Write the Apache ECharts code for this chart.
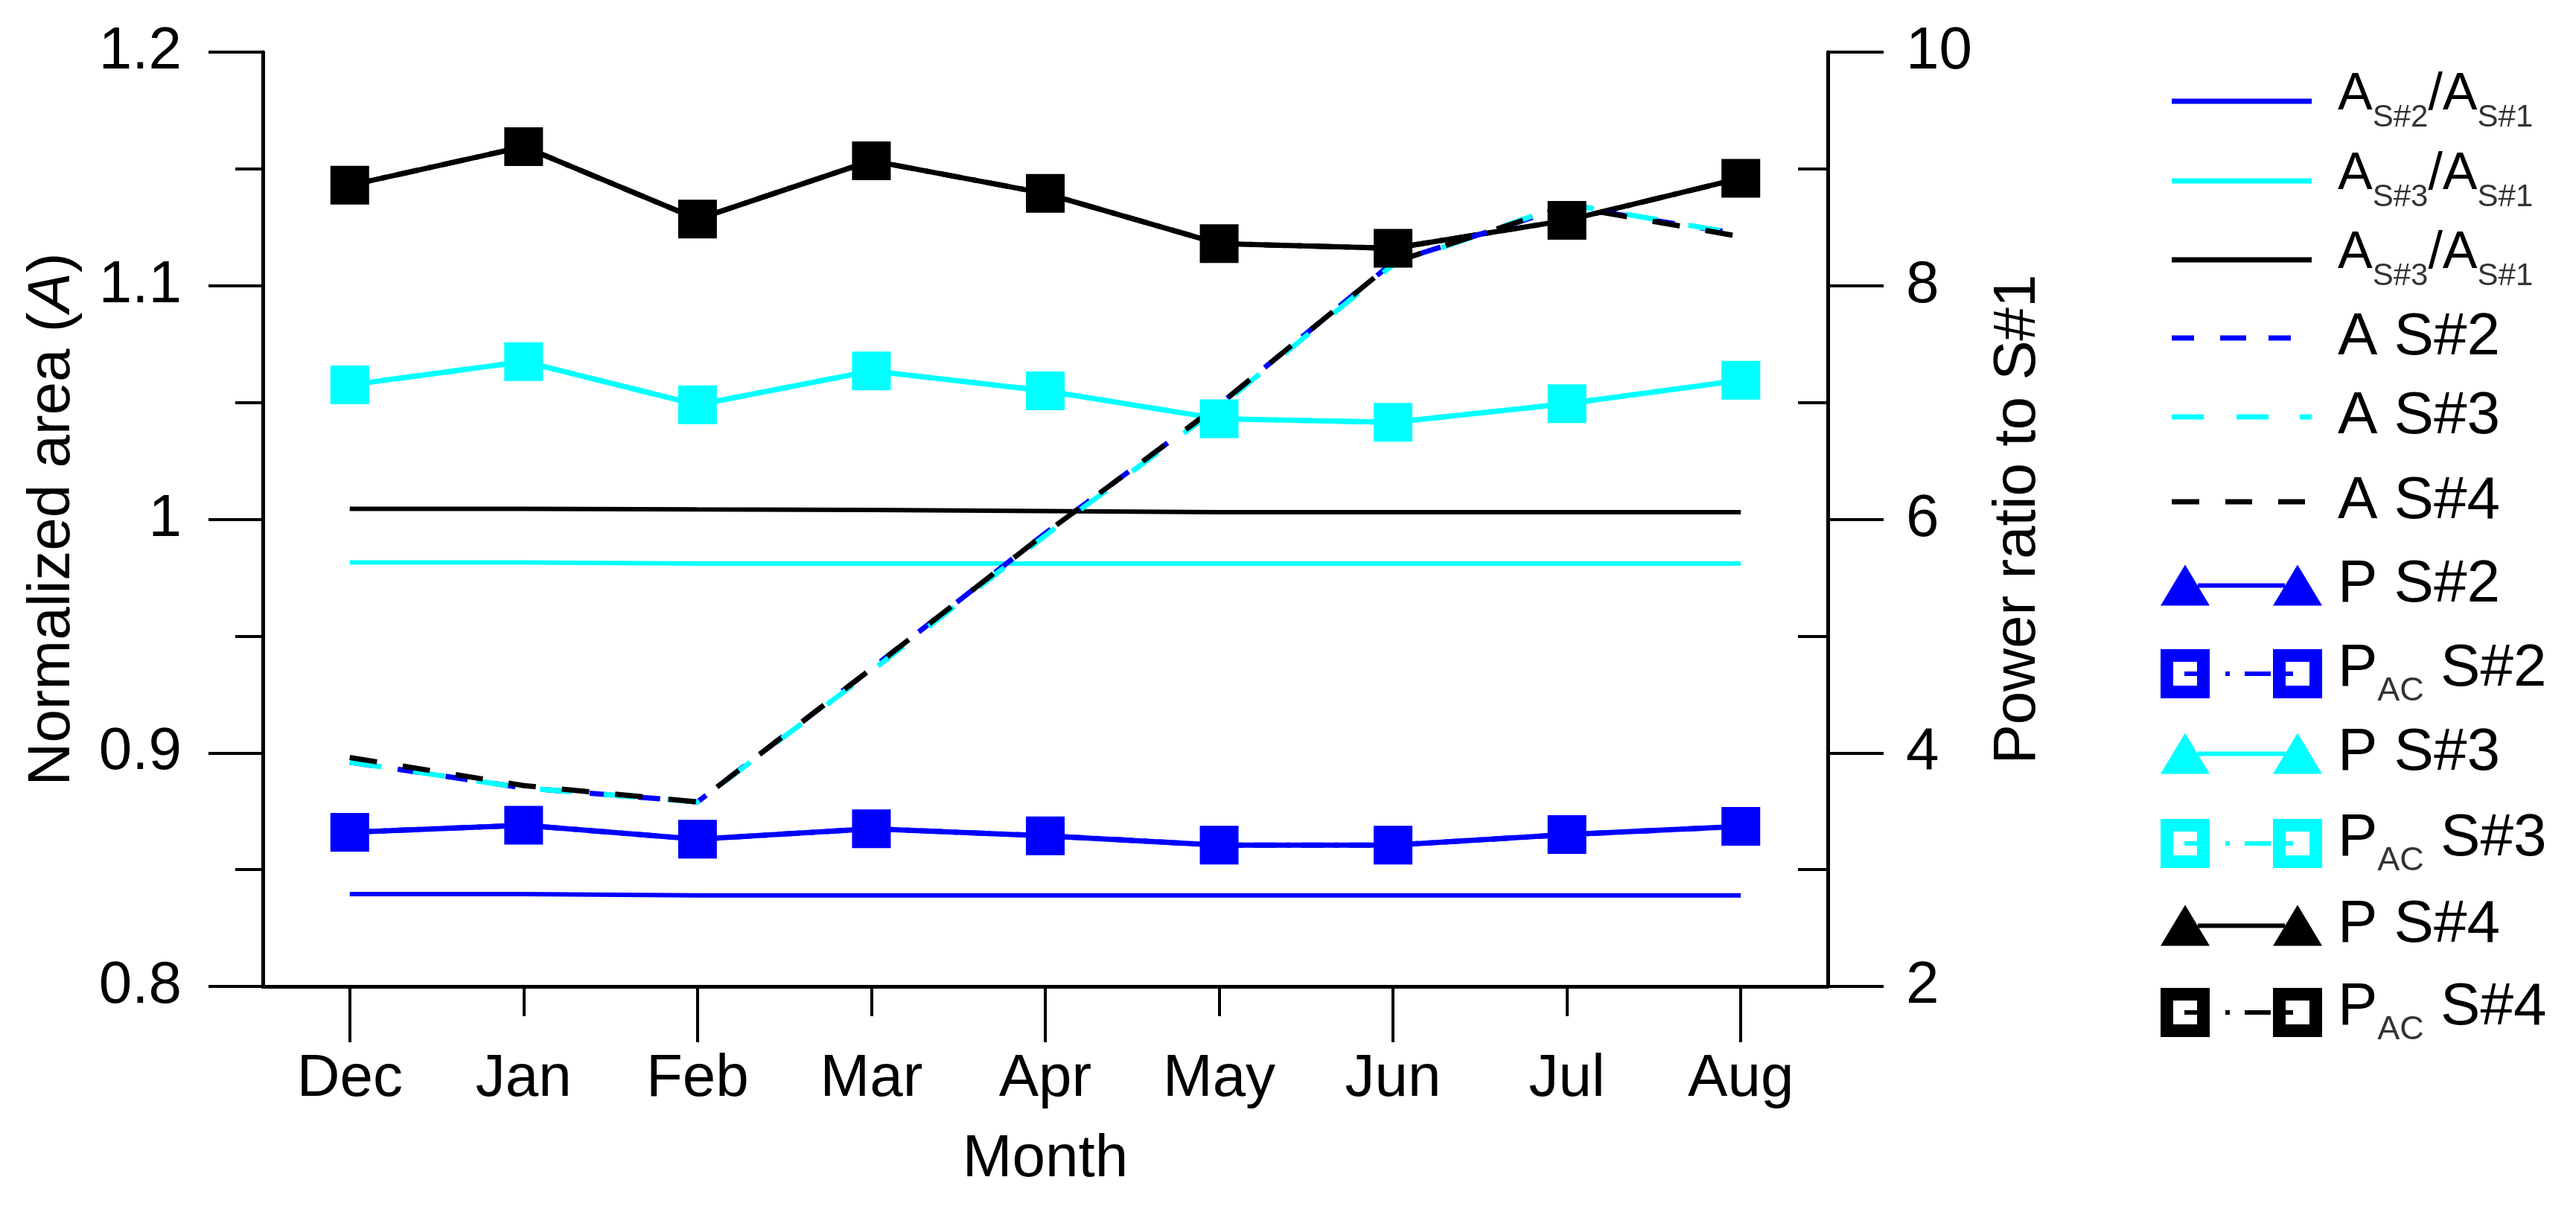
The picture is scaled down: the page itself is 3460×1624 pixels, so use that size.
<!DOCTYPE html>
<html><head><meta charset="utf-8">
<script src="https://cdn.jsdelivr.net/npm/echarts@6/dist/echarts.min.js"></script>
<style>html,body{margin:0;padding:0;background:#fff}#c{width:3460px;height:1624px}</style>
</head><body><div id="c"></div>
<script>
// ---------------- data ----------------
const months = ['Dec', 'Jan', 'Feb', 'Mar', 'Apr', 'May', 'Jun', 'Jul', 'Aug'];

// left axis: normalized area
const areaRatioS2 = [0.8395, 0.8395, 0.839, 0.839, 0.839, 0.839, 0.839, 0.839, 0.839];
const areaRatioS3 = [0.9815, 0.9815, 0.981, 0.981, 0.981, 0.981, 0.981, 0.981, 0.981];
const areaRatioS4 = [1.0045, 1.0045, 1.0042, 1.004, 1.0035, 1.003, 1.003, 1.003, 1.003];
const areaS2 = [0.896, 0.885, 0.879, 0.936, 0.994, 1.049, 1.110, 1.134, 1.122];
const areaS3 = [0.896, 0.885, 0.879, 0.935, 0.993, 1.048, 1.109, 1.135, 1.122];
const areaS4 = [0.898, 0.886, 0.879, 0.936, 0.994, 1.049, 1.110, 1.134, 1.121];

// right axis: power ratio to S#1
const powerS2   = [3.32, 3.38, 3.26, 3.35, 3.29, 3.21, 3.21, 3.30, 3.37];
const powerAcS2 = [3.32, 3.38, 3.26, 3.35, 3.29, 3.21, 3.21, 3.30, 3.37];
const powerS3   = [7.15, 7.35, 6.98, 7.27, 7.10, 6.86, 6.83, 6.99, 7.19];
const powerAcS3 = [7.15, 7.35, 6.98, 7.27, 7.10, 6.86, 6.83, 6.99, 7.19];
const powerS4   = [8.86, 9.19, 8.57, 9.07, 8.79, 8.36, 8.32, 8.56, 8.92];
const powerAcS4 = [8.86, 9.19, 8.57, 9.07, 8.79, 8.36, 8.32, 8.56, 8.92];

const leftAxisRange = [0.8, 1.2, 0.1];
const rightAxisRange = [2, 10, 2];

// ---------------- style ----------------
const FONT = '"Liberation Sans", Arial, Helvetica, sans-serif';
const BLUE = '#0000ff', CYAN = '#00ffff', BLACK = '#000000', SUBC = '#333333';

const ICON_SOLID = 'path://M0,0H188V7H0Z';
const ICON_DASH_BLUE = 'path://M0,0H30V7H0Z M65,0H100V7H65Z M130,0H160V7H130Z';
const ICON_DASH_CYAN = 'path://M0,0H43V7H0Z M87,0H130V7H87Z M172,0H188V7H172Z';
const ICON_DASH_BLACK = 'path://M0,0H37V7H0Z M72,0H108V7H72Z M143,0H179V7H143Z';
const ICON_TRI = 'path://M0,55L33,0L66,55Z M151,55L184,0L217,55Z M50,25H167V31H50Z';
const ICON_SQ = 'path://M0,0H66V66H0Z M17,17V49H49V17Z M151,0H217V66H151Z M168,17V49H200V17Z ' +
  'M32,30H49V36H32Z M87,30H93V36H87Z M113,30H148V36H113Z M168,30H178V36H168Z';

// legend rows: [seriesName, label kind, label parts, icon, color, iconLeft, iconW, iconH, rowCenterY]
const legendRows = [
  ['A_S#2/A_S#1', 'ratio', ['A', 'S#2', '/A', 'S#1'], ICON_SOLID, BLUE, 2917, 188, 7, 136],
  ['A_S#3/A_S#1', 'ratio', ['A', 'S#3', '/A', 'S#1'], ICON_SOLID, CYAN, 2917, 188, 7, 243],
  ['A_S#3/A_S#1 (black)', 'ratio', ['A', 'S#3', '/A', 'S#1'], ICON_SOLID, BLACK, 2917, 188, 7, 349],
  ['A S#2', 'plain', ['A S#2'], ICON_DASH_BLUE, BLUE, 2917, 160, 7, 457],
  ['A S#3', 'plain', ['A S#3'], ICON_DASH_CYAN, CYAN, 2917, 188, 7, 563],
  ['A S#4', 'plain', ['A S#4'], ICON_DASH_BLACK, BLACK, 2917, 179, 7, 677],
  ['P S#2', 'plain', ['P S#2'], ICON_TRI, BLUE, 2902, 217, 55, 789],
  ['P_AC S#2', 'pac', ['P', 'AC', ' S#2'], ICON_SQ, BLUE, 2902, 217, 66, 905],
  ['P S#3', 'plain', ['P S#3'], ICON_TRI, CYAN, 2902, 217, 55, 1015],
  ['P_AC S#3', 'pac', ['P', 'AC', ' S#3'], ICON_SQ, CYAN, 2902, 217, 66, 1133],
  ['P S#4', 'plain', ['P S#4'], ICON_TRI, BLACK, 2902, 217, 55, 1246],
  ['P_AC S#4', 'pac', ['P', 'AC', ' S#4'], ICON_SQ, BLACK, 2902, 217, 66, 1360]
];
const TEXT_START = 3140;

function buildLegend(row) {
  const [name, kind, parts, icon, color, left, w, h, cy] = row;
  const pad = TEXT_START - (left + w + 5);
  let rich, text, LH;
  if (kind === 'ratio') {
    LH = 86;
    rich = {
      n0: {fontFamily: FONT, fontSize: 70, lineHeight: LH, verticalAlign: 'top', color: '#000', padding: [0, 0, 0, pad]},
      n: {fontFamily: FONT, fontSize: 70, lineHeight: LH, verticalAlign: 'top', color: '#000'},
      s: {fontFamily: FONT, fontSize: 42, lineHeight: LH, verticalAlign: 'bottom', color: SUBC}
    };
    text = '{n0|' + parts[0] + '}{s|' + parts[1] + '}{n|' + parts[2] + '}{s|' + parts[3] + '}';
  } else if (kind === 'pac') {
    LH = 92;
    rich = {
      p0: {fontFamily: FONT, fontSize: 80, lineHeight: LH, verticalAlign: 'top', color: '#000', padding: [0, 0, 0, pad]},
      q: {fontFamily: FONT, fontSize: 45, lineHeight: LH, verticalAlign: 'bottom', color: SUBC},
      p: {fontFamily: FONT, fontSize: 80, lineHeight: LH, verticalAlign: 'top', color: '#000'}
    };
    text = '{p0|' + parts[0] + '}{q|' + parts[1] + '}{p|' + parts[2] + '}';
  } else {
    LH = 86;
    rich = {
      b0: {fontFamily: FONT, fontSize: 80, lineHeight: LH, verticalAlign: 'middle', color: '#000', padding: [0, 0, 0, pad]}
    };
    text = '{b0|' + parts[0] + '}';
  }
  return {
    orient: 'vertical',
    left: left,
    top: cy - Math.max(LH, h) / 2,
    padding: 0,
    itemGap: 0,
    itemWidth: w,
    itemHeight: h,
    selectedMode: false,
    symbolKeepAspect: false,
    data: [{name: name, icon: icon, itemStyle: {color: color, borderWidth: 0, opacity: 1}}],
    formatter: function () { return text; },
    textStyle: {rich: rich, fontFamily: FONT}
  };
}

function lineSeries(name, data, yIdx, color, extra) {
  return Object.assign({
    name: name,
    type: 'line',
    data: data,
    xAxisIndex: 0,
    yAxisIndex: yIdx,
    showSymbol: false,
    symbol: 'none',
    silent: true,
    animation: false,
    lineStyle: {color: color, width: 6},
    itemStyle: {color: color},
    emphasis: {disabled: true}
  }, extra || {});
}

function powerSeries(name, data, color) {
  return lineSeries(name, data, 1, color, {
    symbol: 'triangle', symbolSize: [52, 44], showSymbol: true,
    lineStyle: {color: color, width: 7},
    itemStyle: {color: color}
  });
}
function powerAcSeries(name, data, color) {
  return lineSeries(name, data, 1, color, {
    symbol: 'rect', symbolSize: 34, showSymbol: true,
    lineStyle: {color: color, width: 7, type: [30, 14, 6, 14]},
    itemStyle: {color: 'rgba(0,0,0,0)', borderColor: color, borderWidth: 18}
  });
}

const axisLineStyle = {color: '#000', width: 5};
const tickStyle = {color: '#000', width: 4};
const labelStyle = {color: '#000', fontSize: 80, fontFamily: FONT};
const nameStyle = {color: '#000', fontSize: 80, fontFamily: FONT};

const option = {
  animation: false,
  backgroundColor: '#ffffff',
  grid: {left: 353, right: 1005, top: 70, bottom: 299, containLabel: false},
  legend: legendRows.map(buildLegend),
  xAxis: [
    {
      type: 'category', data: months, position: 'bottom', boundaryGap: true,
      axisLine: {show: true, lineStyle: axisLineStyle},
      axisTick: {show: true, alignWithLabel: true, length: 75, lineStyle: tickStyle,
        interval: function (i) { return i % 2 === 0; }},
      axisLabel: Object.assign({margin: 85, interval: 0}, labelStyle),
      splitLine: {show: false},
      name: 'Month', nameLocation: 'middle', nameGap: 193, nameTextStyle: nameStyle
    },
    {
      type: 'category', data: months, position: 'bottom', boundaryGap: true,
      axisLine: {show: false},
      axisTick: {show: true, alignWithLabel: true, length: 40, lineStyle: tickStyle,
        interval: function (i) { return i % 2 === 1; }},
      axisLabel: {show: false},
      splitLine: {show: false}
    }
  ],
  yAxis: [
    {
      type: 'value', position: 'left',
      min: leftAxisRange[0], max: leftAxisRange[1], interval: leftAxisRange[2],
      axisLine: {show: true, lineStyle: axisLineStyle},
      axisTick: {show: true, length: 73, lineStyle: tickStyle},
      minorTick: {show: true, splitNumber: 2, length: 37, lineStyle: tickStyle},
      axisLabel: Object.assign({margin: 109}, labelStyle),
      splitLine: {show: false},
      name: 'Normalized area ({i|A})', nameLocation: 'middle', nameRotate: 90, nameGap: 242,
      nameTextStyle: Object.assign({rich: {i: {fontStyle: 'italic', fontSize: 80, fontFamily: FONT, color: '#000'}}}, nameStyle)
    },
    {
      type: 'value', position: 'right',
      min: rightAxisRange[0], max: rightAxisRange[1], interval: rightAxisRange[2],
      axisLine: {show: true, lineStyle: axisLineStyle},
      axisTick: {show: true, length: 75, lineStyle: tickStyle},
      axisLabel: Object.assign({margin: 105}, labelStyle),
      splitLine: {show: false},
      name: 'Power ratio to S#1', nameLocation: 'middle', nameRotate: 90, nameGap: 216,
      nameTextStyle: nameStyle
    },
    {
      // inward minor ticks of the right axis (at 3, 5, 7, 9)
      type: 'category', position: 'right', boundaryGap: false,
      data: ['', '', '', '', '', '', '', '', ''],
      axisLine: {show: false},
      axisTick: {show: true, inside: true, length: 40, lineStyle: tickStyle,
        interval: function (i) { return i % 2 === 1; }},
      axisLabel: {show: false},
      splitLine: {show: false}
    }
  ],
  series: [
    powerSeries('P S#2', powerS2, BLUE),
    powerAcSeries('P_AC S#2', powerAcS2, BLUE),
    powerSeries('P S#3', powerS3, CYAN),
    powerAcSeries('P_AC S#3', powerAcS3, CYAN),
    powerSeries('P S#4', powerS4, BLACK),
    powerAcSeries('P_AC S#4', powerAcS4, BLACK),
    lineSeries('A_S#2/A_S#1', areaRatioS2, 0, BLUE),
    lineSeries('A_S#3/A_S#1', areaRatioS3, 0, CYAN),
    lineSeries('A_S#3/A_S#1 (black)', areaRatioS4, 0, BLACK),
    lineSeries('A S#2', areaS2, 0, BLUE, {lineStyle: {color: BLUE, width: 7, type: [30, 35]}}),
    lineSeries('A S#3', areaS3, 0, CYAN, {lineStyle: {color: CYAN, width: 7, type: [43, 43]}}),
    lineSeries('A S#4', areaS4, 0, BLACK, {lineStyle: {color: BLACK, width: 7, type: [37, 35]}})
  ]
};

const chart = echarts.init(document.getElementById('c'), null, {renderer: 'canvas'});
chart.setOption(option);
</script>
</body></html>
